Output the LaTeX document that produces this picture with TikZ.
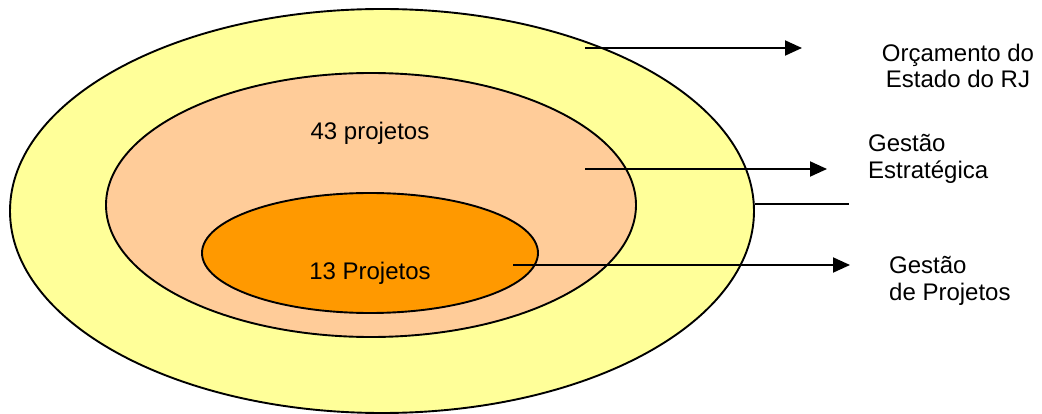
\documentclass[tikz,border=0pt]{standalone}
\usepackage{fontspec}
\setmainfont{Liberation Sans}
\usetikzlibrary{arrows.meta}
\definecolor{outerY}{HTML}{FFFF99}
\definecolor{midO}{HTML}{FFCC99}
\definecolor{innerO}{HTML}{FF9900}
\begin{document}
\begin{tikzpicture}[x=1pt,y=-1pt,
  ring/.style={draw=black,line width=1.9pt},
  conn/.style={draw=black,line width=1.9pt,-{Triangle[length=17pt,width=15pt]}},
  lbl/.style={font=\fontsize{24}{26.5}\selectfont,inner sep=0pt,align=left},
  lblc/.style={font=\fontsize{24}{26.5}\selectfont,inner sep=0pt,align=center}]
\useasboundingbox (0,0) rectangle (1042,414);
\fill[white] (0,0) rectangle (1042,414);
\draw[ring,fill=outerY] (382,211) ellipse [x radius=372pt, y radius=202pt];
\draw[ring,fill=midO] (371,205) ellipse [x radius=265pt, y radius=132pt];
\draw[ring,fill=innerO] (370,253) ellipse [x radius=168pt, y radius=60pt];
\node[lblc] (t43) at (370,133) {43 projetos};
\node[lblc] (t13) at (370,273) {13 Projetos};
\node[lblc] (orc) at (958,66) {Orçamento do\\Estado do RJ};
\node[lbl,anchor=west] (ge) at (868,159) {Gestão\\Estratégica};
\node[lbl,anchor=west] (gp) at (889,281) {Gestão\\de Projetos};
\coordinate (a1s) at (585,48);
\coordinate (a1e) at (802,48);
\coordinate (a2s) at (585,169);
\coordinate (a2e) at (827,169);
\coordinate (a3s) at (513,265);
\coordinate (a3e) at (850,265);
\coordinate (ls) at (755,204);
\coordinate (le) at (849,204);
\draw[conn] (a1s) -- (a1e);
\draw[conn] (a2s) -- (a2e);
\draw[conn] (a3s) -- (a3e);
\draw[black,line width=1.9pt] (ls) -- (le);
\end{tikzpicture}
\end{document}
